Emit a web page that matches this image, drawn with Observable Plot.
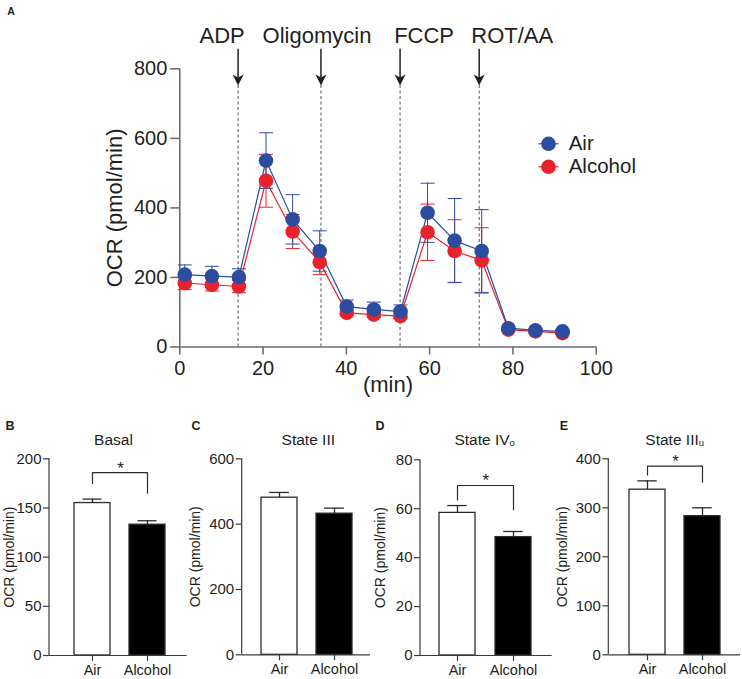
<!DOCTYPE html>
<html>
<head>
<meta charset="utf-8">
<script src="https://cdn.jsdelivr.net/npm/d3@7"></script>
<script src="https://cdn.jsdelivr.net/npm/@observablehq/plot@0.6"></script>
<style>
  html, body { margin: 0; padding: 0; background: #ffffff; }
  body { font-family: "Liberation Sans", Arial, Helvetica, sans-serif; color: #231f20; }
  #root { position: relative; width: 742px; height: 679px; overflow: hidden; background: #ffffff; }
  .panel { position: absolute; }
  .centered { position: absolute; transform: translate(-50%, -50%); white-space: nowrap; line-height: 1; }
  .letter { font-weight: bold; }
  .title { font-size: 15.5px; }
  .sub { font-size: 9.5px; vertical-align: -1px; }
</style>
</head>
<body>
<div id="root"></div>
<script>
// ---------------- DATA ----------------
// Panel A: OCR time course (pmol/min), mean ± SEM
const times   = [1.2, 7.7, 14.2, 20.7, 27.1, 33.6, 40.1, 46.6, 53.0, 59.5, 66.0, 72.5, 78.9, 85.4, 91.9];
const airMean = [208, 204, 201, 536, 367, 276, 116, 108, 102, 386, 306, 276, 54, 48, 45];
const airSem  = [28, 28, 24, 80, 71, 58, 19, 21, 19, 85, 121, 119, 5, 5, 5];
const alcMean = [184, 179, 174, 478, 332, 244, 98, 93, 89, 330, 276, 249, 50, 45, 40];
const alcSem  = [19, 18, 18, 76, 49, 36, 8, 8, 8, 81, 90, 94, 4, 4, 4];
const seriesNames = ["Air", "Alcohol"];
const xTicksA = [0, 20, 40, 60, 80, 100];
const yTicksA = [0, 200, 400, 600, 800];
const events = ["ADP", "Oligomycin", "FCCP", "ROT/AA"];
const eventTimes = [14.0, 33.9, 52.9, 71.9];

// Panels B–E: bar charts, mean ± SEM
const groups = ["Air", "Alcohol"];
const basalMean = [155, 133];   const basalSem = [4, 4];
const state3Mean = [481, 432];  const state3Sem = [16, 17];
const state4oMean = [58.3, 48.4]; const state4oSem = [3, 2.3];
const state3uMean = [337, 283]; const state3uSem = [18, 17];
const basalTicks = [0, 50, 100, 150, 200];
const state3Ticks = [0, 200, 400, 600];
const state4oTicks = [0, 20, 40, 60, 80];
const state3uTicks = [0, 100, 200, 300, 400];
// significance brackets (bar level, left leg end, right leg end) in OCR units
const basalSig = {bar: 186, left: 175, right: 165};
const state4oSig = {bar: 69.5, left: 63.6, right: 59.6};
const state3uSig = {bar: 385, left: 367, right: 352};

// ---------------- STYLE / LAYOUT ----------------
const FONT = '"Liberation Sans", Arial, Helvetica, sans-serif';
const BLUE = "#2b4c9f", RED = "#e6222b";
const seriesColors = {Air: BLUE, Alcohol: RED};
const AXA = "#6d6e71", TXT = "#231f20", AXB = "#3a3a3a";
const barFills = ["#ffffff", "#000000"];

const root = document.getElementById("root");
function place(node, left, top) {
  const d = document.createElement("div");
  d.className = "panel";
  d.style.left = left + "px"; d.style.top = top + "px";
  d.appendChild(node);
  root.appendChild(d);
}
function label(html, x, y, cls, size) {
  const d = document.createElement("div");
  d.className = "centered " + cls;
  d.style.left = x + "px"; d.style.top = y + "px";
  if (size) d.style.fontSize = size + "px";
  d.innerHTML = html;
  root.appendChild(d);
}
const hline = (half) => ({draw(ctx) { ctx.moveTo(-half, 0); ctx.lineTo(half, 0); }});
const arrowHead = {draw(ctx) { ctx.moveTo(0, 0); ctx.lineTo(-5.5, -11); ctx.lineTo(0, -8); ctx.lineTo(5.5, -11); ctx.closePath(); }};

// ---------------- PANEL A ----------------
const means = {Air: airMean, Alcohol: alcMean};
const sems = {Air: airSem, Alcohol: alcSem};
const rowsOf = (name) => times.map((t, i) => ({series: name, t, v: means[name][i], lo: means[name][i] - sems[name][i], hi: means[name][i] + sems[name][i]}));
const drawOrder = ["Alcohol", "Air"];
const arrowTip = 752, arrowTop = 856;
const labelShift = [-16, -4, 24, 33];

const marksA = [];
marksA.push(Plot.ruleX(eventTimes, {x: d => d, y1: 0, y2: arrowTip, stroke: "#555", strokeWidth: 1, strokeDasharray: "3,2.5"}));
marksA.push(Plot.ruleY([0], {stroke: AXA, strokeWidth: 1.6}));
marksA.push(Plot.ruleX([0], {stroke: AXA, strokeWidth: 1.6}));
marksA.push(Plot.axisX({ticks: xTicksA, tickSize: 8, tickPadding: 5.5, fontSize: 20, stroke: AXA, strokeWidth: 1.6, fill: TXT, label: null}));
marksA.push(Plot.axisX({ticks: [], fontSize: 22, fill: TXT, label: "(min)", labelAnchor: "center", labelOffset: 44.5, labelArrow: "none"}));
marksA.push(Plot.axisY({ticks: yTicksA, tickSize: 9, tickPadding: 3.5, fontSize: 20, stroke: AXA, strokeWidth: 1.6, fill: TXT, label: null}));
marksA.push(Plot.axisY({ticks: [], fontSize: 22, fill: TXT, label: "OCR (pmol/min)", labelAnchor: "center", labelOffset: 73.5, labelArrow: "none"}));
for (const name of drawOrder) {
  const rows = rowsOf(name), c = seriesColors[name];
  marksA.push(Plot.ruleX(rows, {x: "t", y1: "lo", y2: "hi", stroke: c, strokeWidth: 1}));
  marksA.push(Plot.dot(rows, {x: "t", y: "hi", symbol: hline(7), stroke: c, strokeWidth: 1, fill: "none"}));
  marksA.push(Plot.dot(rows, {x: "t", y: "lo", symbol: hline(7), stroke: c, strokeWidth: 1, fill: "none"}));
}
for (const name of drawOrder) {
  const rows = rowsOf(name), c = seriesColors[name];
  marksA.push(Plot.line(rows, {x: "t", y: "v", stroke: c, strokeWidth: 1.2}));
}
for (const name of drawOrder) {
  const rows = rowsOf(name), c = seriesColors[name];
  marksA.push(Plot.dot(rows, {x: "t", y: "v", r: 7.3, fill: c, stroke: "none"}));
}
// event arrows + labels
marksA.push(Plot.ruleX(eventTimes, {x: d => d, y1: arrowTop, y2: arrowTip + 20, stroke: TXT, strokeWidth: 1.5}));
marksA.push(Plot.dot(eventTimes, {x: d => d, y: () => arrowTip, symbol: arrowHead, fill: TXT, stroke: "none"}));
events.forEach((ev, i) => {
  marksA.push(Plot.text([ev], {x: () => eventTimes[i], frameAnchor: "top", text: d => d, dx: labelShift[i], dy: -32.5, lineAnchor: "middle", fontSize: 22, fill: TXT}));
});
// legend
seriesNames.forEach((name, i) => {
  const dy = 75 + i * 23, c = seriesColors[name];
  marksA.push(Plot.dot([name], {frameAnchor: "top-right", dx: -47.7, dy, symbol: hline(10), stroke: c, strokeWidth: 1.2, fill: "none"}));
  marksA.push(Plot.dot([name], {frameAnchor: "top-right", dx: -47.7, dy, r: 7.3, fill: c, stroke: "none"}));
  marksA.push(Plot.text([name], {frameAnchor: "top-right", text: d => d, dx: -27.5, dy, textAnchor: "start", lineAnchor: "middle", fontSize: 20.5, fill: TXT}));
});

const plotA = Plot.plot({
  width: 742, height: 400,
  marginLeft: 179.3, marginRight: 146.3, marginTop: 68.3, marginBottom: 53.5,
  x: {domain: [0, 100]},
  y: {domain: [0, 800]},
  style: {fontFamily: FONT, background: "transparent", overflow: "visible", maxWidth: "none", color: TXT},
  marks: marksA
});
place(plotA, 0, 0);

// ---------------- PANELS B–E ----------------
const BAR_TOP = 440, BAR_H = 239;
function yAxisLine(color, width) {
  return (index, scales, values, dims) =>
    d3.create("svg:line")
      .attr("x1", dims.marginLeft).attr("x2", dims.marginLeft)
      .attr("y1", dims.marginTop).attr("y2", dims.height - dims.marginBottom)
      .attr("stroke", color).attr("stroke-width", width).node();
}
function barPanel(p) {
  const rows = groups.map((g, i) => ({g, v: p.values[i], e: p.sems[i], fill: barFills[i]}));
  const step = p.c2 - p.c1;
  const inset = (p.bw - 20) / 2;
  const marks = [
    Plot.barY(rows, {x: "g", y: "v", fill: "fill", stroke: "#2b2b2b", strokeWidth: 1.3}),
    Plot.ruleX(rows, {x: "g", y1: "v", y2: d => d.v + d.e, stroke: "#2b2b2b", strokeWidth: 1.3}),
    Plot.tickY(rows, {x: "g", y: d => d.v + d.e, insetLeft: inset, insetRight: inset, stroke: "#2b2b2b", strokeWidth: 1.3}),
    Plot.ruleY([0], {stroke: AXB, strokeWidth: 1.2}),
    yAxisLine(AXB, 1.2),
    Plot.axisY({ticks: p.ticks, tickSize: 6, tickPadding: 2, fontSize: 15, stroke: AXB, strokeWidth: 1.2, fill: TXT, label: null}),
    Plot.axisY({ticks: [], fontSize: 14, fill: TXT, label: "OCR (pmol/min)", labelAnchor: "center", labelOffset: p.labelOffset, labelArrow: "none"}),
    Plot.axisX({tickSize: 6, tickPadding: 3, fontSize: 14.5, stroke: AXB, strokeWidth: 1.2, fill: TXT, label: null})
  ];
  if (p.sig) {
    const br = [
      {g: groups[0], v: p.sig.left}, {g: groups[0], v: p.sig.bar},
      {g: groups[1], v: p.sig.bar}, {g: groups[1], v: p.sig.right}
    ];
    marks.push(Plot.line(br, {x: "g", y: "v", stroke: "#2b2b2b", strokeWidth: 1.2}));
    marks.push(Plot.text(["*"], {x: () => groups[0], y: () => p.sig.bar, text: d => d, dx: step / 2, dy: 1, lineAnchor: "bottom", fontSize: 17, fill: TXT}));
  }
  const svg = Plot.plot({
    width: p.width, height: BAR_H,
    marginLeft: p.xl - p.left, marginRight: p.left + p.width - p.xr,
    marginTop: p.ytop - BAR_TOP, marginBottom: BAR_TOP + BAR_H - p.y0,
    x: {type: "band", domain: groups, range: [p.c1 - p.bw / 2 - p.left, p.c2 + p.bw / 2 - p.left], paddingInner: 1 - p.bw / step, paddingOuter: 0, align: 0.5},
    y: {domain: [0, p.ticks[p.ticks.length - 1]]},
    style: {fontFamily: FONT, background: "transparent", overflow: "visible", maxWidth: "none", color: TXT},
    marks
  });
  place(svg, p.left, BAR_TOP);
  label(p.letter, p.letterX, 426, "letter", 12.5);
  label(p.title, p.titleX, 440, "title");
}

const panels = [
  {letter: "B", title: "Basal", values: basalMean, sems: basalSem, ticks: basalTicks, sig: basalSig,
   left: 0, width: 190, xl: 49, xr: 186.7, c1: 91.7, c2: 147.7, bw: 37, ytop: 458.3, y0: 655, labelOffset: 45.7, titleX: 113.5, letterX: 10},
  {letter: "C", title: "State III", values: state3Mean, sems: state3Sem, ticks: state3Ticks, sig: null,
   left: 185, width: 190, xl: 241.7, xr: 370, c1: 278.8, c2: 334, bw: 36.2, ytop: 458.3, y0: 654.3, labelOffset: 52.5, titleX: 308.3, letterX: 196},
  {letter: "D", title: 'State IV<span class="sub">o</span>', values: state4oMean, sems: state4oSem, ticks: state4oTicks, sig: state4oSig,
   left: 372, width: 185, xl: 420, xr: 551.7, c1: 457.3, c2: 513.8, bw: 36.5, ytop: 459.3, y0: 655, labelOffset: 45, titleX: 484.7, letterX: 380},
  {letter: "E", title: 'State III<span class="sub">u</span>', values: state3uMean, sems: state3uSem, ticks: state3uTicks, sig: state3uSig,
   left: 556, width: 186, xl: 608.3, xr: 740, c1: 646.3, c2: 702.2, bw: 36.5, ytop: 458.3, y0: 654.3, labelOffset: 51.6, titleX: 674.7, letterX: 564}
];
panels.forEach(barPanel);

label("A", 11, 10.5, "letter", 10.5);
</script>
</body>
</html>
